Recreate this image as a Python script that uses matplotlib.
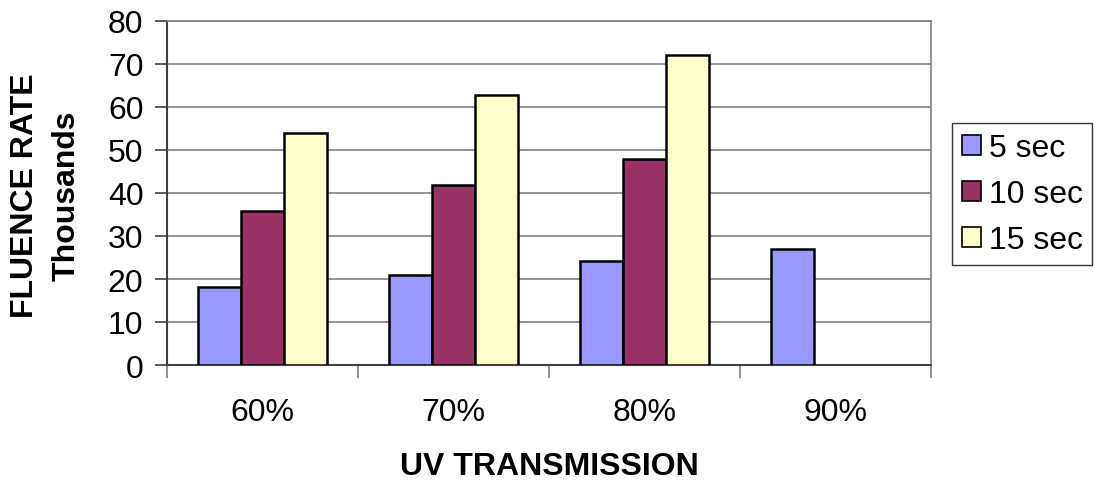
import matplotlib
matplotlib.use("Agg")
import matplotlib.pyplot as plt
import numpy as np

plt.rcParams['font.family'] = ['Liberation Sans', 'DejaVu Sans']

categories = ["60%", "70%", "80%", "90%"]
series_names = ["5 sec", "10 sec", "15 sec"]
sec5 = [18.1, 20.9, 24.2, 27.0]
sec10 = [35.8, 41.9, 47.9, None]
sec15 = [54.0, 62.8, 72.1, None]
yticks = [0, 10, 20, 30, 40, 50, 60, 70, 80]
colors = ["#9999FF", "#993366", "#FFFFCC"]

FS = 23

fig = plt.figure(figsize=(10.94, 4.81), dpi=100)
ax = fig.add_axes([167/1094, 1 - 366/481, (931-167)/1094, (366-22)/481])

x = np.arange(len(categories))
w = 0.2235
for i, (vals, c, name) in enumerate(zip([sec5, sec10, sec15], colors, series_names)):
    v = np.array([np.nan if a is None else a for a in vals], dtype=float)
    ax.bar(x + (i - 1) * w, v, width=w, color=c, edgecolor="black", linewidth=1.8,
           label=name, zorder=3)

ax.set_xlim(-0.5, len(categories) - 0.5)
ax.set_ylim(0, 80)
ax.set_yticks(yticks)
ax.set_yticklabels([str(t) for t in yticks])
ax.yaxis.grid(True, color="#808080", linewidth=1.2, zorder=0)
ax.set_axisbelow(True)

ax.set_xticks(x)
ax.set_xticklabels(categories)
ax.set_xticks(np.arange(-0.5, len(categories)), minor=True)
ax.tick_params(axis="x", which="major", length=0, pad=23, labelsize=FS)
ax.tick_params(axis="x", which="minor", length=9, width=1.2, color="#808080", direction="out")
ax.tick_params(axis="y", length=9, width=1.2, color="#404040", direction="out", labelsize=FS, pad=8)

for s in ["top", "right"]:
    ax.spines[s].set_color("#808080")
    ax.spines[s].set_linewidth(1.2)
ax.spines["left"].set_color("#404040")
ax.spines["left"].set_linewidth(1.5)
ax.spines["bottom"].set_color("#404040")
ax.spines["bottom"].set_linewidth(1.5)

fig.text(549/1094, 1 - 467/481, "UV TRANSMISSION", ha="center", va="center",
         fontsize=FS, fontweight="bold")
fig.text(25/1094, 1 - 196/481, "FLUENCE RATE", rotation=90, ha="center", va="center",
         fontsize=FS, fontweight="bold")
fig.text(67/1094, 1 - 196/481, "Thousands", rotation=90, ha="center", va="center",
         fontsize=FS, fontweight="bold")

leg = ax.legend(loc="center left", bbox_to_anchor=(952/1094, 1 - 195/481),
                bbox_transform=fig.transFigure, frameon=True, fancybox=False,
                fontsize=FS, handlelength=0.6, handleheight=0.6, handletextpad=0.25,
                borderpad=0.3, labelspacing=0.5, borderaxespad=0)
leg.get_frame().set_edgecolor("black")
leg.get_frame().set_linewidth(1.0)
for p in leg.get_patches():
    p.set_linewidth(1.2)

fig.savefig("out.png", dpi=100)
